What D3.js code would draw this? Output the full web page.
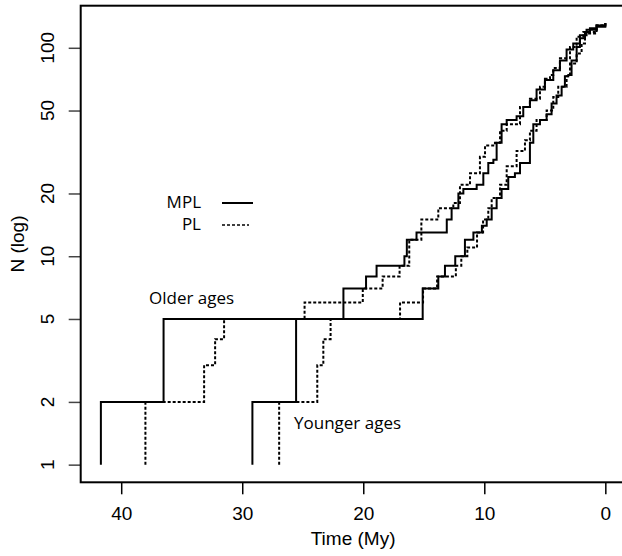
<!DOCTYPE html>
<html>
<head>
<meta charset="utf-8">
<script src="https://cdn.jsdelivr.net/npm/d3@7"></script>
<style>
  body { margin: 0; background: #fff; }
  svg { display: block; }
</style>
</head>
<body>
<div id="chart"></div>
<script>
// lineage-through-time readings: [time (My), N]
var olderMPL = [[41.68,1],[41.68,2],[36.5,5],[21.64,7],[19.77,8],[18.9,9],[16.6,10],[16.4,12],[15.6,13],[13.1,15],[12.7,17],
  [12.14,20],[11.73,21],[10.63,22],[10.08,25],[9.67,28],[9.25,29],[8.98,35],[8.57,43],[8.15,45],[7.33,47],[6.78,52],
  [6.23,56],[5.68,63],[4.99,70],[4.30,78],[3.75,87],[3.20,98],[2.65,105],[2.10,115],[1.55,122],[0.72,128],[0,131]];
var olderPL = [[38.0,1],[38.0,2],[33.15,3],[32.24,4],[31.5,5],[24.85,6],[20.04,7],[18.4,8],[17.0,9],[16.2,12],[15.2,15],
  [13.8,17],[12.56,18],[12.01,22],[11.18,25],[10.36,30],[9.94,34],[9.12,35],[8.70,40],[8.15,43],[7.05,52],[6.23,57],
  [5.40,65],[4.99,71],[4.57,74],[4.30,80],[3.75,89],[2.92,101],[2.37,113],[1.82,119],[0.72,128],[0,131]];
var youngerMPL = [[29.16,1],[29.16,2],[25.55,5],[15.09,7],[13.8,8],[13.25,9],[12.4,10],[11.6,12],[10.9,13],[10.2,14],[9.8,15],
  [9.39,17],[8.98,19],[8.57,21],[8.02,24],[7.47,25],[7.05,28],[6.23,35],[5.95,43],[5.40,45],[4.85,48],[4.44,54],
  [4.03,59],[3.61,65],[3.34,73],[3.06,74],[2.79,87],[2.37,101],[2.10,111],[1.68,119],[1.27,124],[0.72,126],[0,131]];
var youngerPL = [[26.95,1],[26.95,2],[23.8,3],[23.3,4],[22.7,5],[16.96,6],[15.06,7],[13.9,8],[12.35,9],[11.9,10],[11.4,11],
  [10.6,13],[10.1,15],[9.67,17],[9.39,19],[8.70,22],[8.15,27],[7.33,32],[6.64,36],[6.23,40],[5.68,45],[4.85,50],
  [4.30,58],[3.89,65],[3.20,73],[2.92,84],[2.37,94],[1.96,105],[1.68,117],[0.72,128],[0,131]];

var xTicks = [40, 30, 20, 10, 0];
var yTicks = [1, 2, 5, 10, 20, 50, 100];
var legendItems = ["MPL", "PL"];

var width = 622, height = 556;
var box = {left: 80.7, right: 625.5, top: 5.7, bottom: 482.3};

var svg = d3.select("#chart").append("svg").attr("width", width).attr("height", height);

// R style 4% padding
var all = olderMPL.concat(olderPL, youngerMPL, youngerPL);
var tMax = d3.max(all, function (d) { return d[0]; }), tMin = 0;
var tPad = (tMax - tMin) * 0.04;
var x = d3.scaleLinear().domain([tMax + tPad, tMin - tPad]).range([box.left, box.right]);

var lMax = Math.log10(d3.max(all, function (d) { return d[1]; })), lMin = 0;
var lPad = (lMax - lMin) * 0.04;
var y = d3.scaleLog().domain([Math.pow(10, lMin - lPad), Math.pow(10, lMax + lPad)]).range([box.bottom, box.top]);

var font = "'Liberation Sans', Arial, Helvetica, sans-serif";

// axes
var xAxis = svg.append("g").attr("transform", "translate(0," + box.bottom + ")")
  .call(d3.axisBottom(x).tickValues(xTicks).tickSize(12).tickPadding(12).tickFormat(d3.format("d")));
xAxis.select(".domain").remove();
xAxis.selectAll("line").attr("stroke", "#000").attr("stroke-width", 1.5);
xAxis.selectAll("text").attr("font-family", font).attr("font-size", 19).attr("fill", "#000");

var yAxis = svg.append("g").attr("transform", "translate(" + box.left + ",0)")
  .call(d3.axisLeft(y).tickValues(yTicks).tickSize(12).tickFormat(""));
yAxis.select(".domain").remove();
yAxis.selectAll("line").attr("stroke", "#444").attr("stroke-width", 1.5);

svg.append("g").selectAll("text")
  .data(yTicks)
  .enter()
  .append("text")
  .attr("transform", function (d) { return "translate(54," + y(d) + ") rotate(-90)"; })
  .attr("text-anchor", "middle")
  .attr("font-family", font).attr("font-size", 19).attr("fill", "#000")
  .text(function (d) { return d; });

svg.append("rect")
  .attr("x", box.left).attr("y", box.top)
  .attr("width", box.right - box.left).attr("height", box.bottom - box.top)
  .attr("fill", "none").attr("stroke", "#000").attr("stroke-width", 2);

svg.append("text").attr("x", (box.left + box.right) / 2).attr("y", 545)
  .attr("text-anchor", "middle").attr("font-family", font).attr("font-size", 19).text("Time (My)");
svg.append("text").attr("transform", "translate(24," + (box.top + box.bottom) / 2 + ") rotate(-90)")
  .attr("text-anchor", "middle").attr("font-family", font).attr("font-size", 19).text("N (log)");

// curves
var line = d3.line()
  .x(function (d) { return x(d[0]); })
  .y(function (d) { return y(d[1]); })
  .curve(d3.curveStepAfter);

var series = [
  {data: olderMPL, dash: null},
  {data: olderPL, dash: "3,2"},
  {data: youngerMPL, dash: null},
  {data: youngerPL, dash: "3,2"}
];
svg.append("g").selectAll("path")
  .data(series)
  .enter()
  .append("path")
  .attr("d", function (d) { return line(d.data); })
  .attr("fill", "none")
  .attr("stroke", "#000")
  .attr("stroke-width", 2)
  .attr("stroke-dasharray", function (d) { return d.dash; });

// annotations
var note = "'Open Sans', 'Liberation Sans', sans-serif";
svg.append("text").attr("x", 149).attr("y", 304).attr("font-family", note).attr("font-size", 17).text("Older ages");
svg.append("text").attr("x", 294).attr("y", 429).attr("font-family", note).attr("font-size", 17).text("Younger ages");

// legend
var leg = svg.append("g").selectAll("g").data(legendItems).enter().append("g")
  .attr("transform", function (d, i) { return "translate(0," + (203 + i * 22) + ")"; });
leg.append("text").attr("x", 201).attr("y", 5).attr("text-anchor", "end")
  .attr("font-family", note).attr("font-size", 17).text(function (d) { return d; });
leg.append("line").attr("x1", 222).attr("x2", function (d, i) { return i ? 249 : 253; })
  .attr("stroke", "#000").attr("stroke-width", function (d, i) { return i ? 1.5 : 2; })
  .attr("stroke-dasharray", function (d, i) { return i ? "3,2" : null; });
</script>
</body>
</html>
